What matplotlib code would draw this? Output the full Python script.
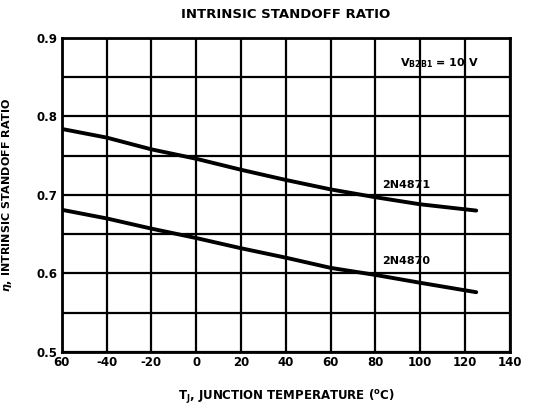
import matplotlib
matplotlib.use("Agg")
import matplotlib.pyplot as plt

# 데이터
temp = [-60, -40, -20, 0, 20, 40, 60, 80, 100, 125]
eta_2n4871 = [0.784, 0.773, 0.758, 0.746, 0.732, 0.719, 0.707, 0.697, 0.688, 0.680]
eta_2n4870 = [0.681, 0.670, 0.657, 0.645, 0.632, 0.620, 0.607, 0.598, 0.588, 0.576]

x_ticks = [-60, -40, -20, 0, 20, 40, 60, 80, 100, 120, 140]
x_tick_labels = ["60", "-40", "-20", "0", "20", "40", "60", "80", "100", "120", "140"]
y_ticks = [0.5, 0.6, 0.7, 0.8, 0.9]
y_tick_labels = ["0.5", "0.6", "0.7", "0.8", "0.9"]
y_grid = [0.55, 0.65, 0.75, 0.85]

plt.rcParams["font.family"] = ["DejaVu Sans"]
plt.rcParams["font.weight"] = "bold"

fig = plt.figure(figsize=(5.47, 4.12), dpi=100)
ax = fig.add_axes([0.113, 0.146, 0.819, 0.762])

ax.set_xlim(-60, 140)
ax.set_ylim(0.5, 0.9)

# 격자
for xv in x_ticks:
    ax.axvline(xv, color="black", lw=1.6, zorder=1)
for yv in y_ticks + y_grid:
    ax.axhline(yv, color="black", lw=1.6, zorder=1)

# 곡선
ax.plot(temp, eta_2n4871, color="black", lw=2.8, solid_capstyle="round", zorder=3)
ax.plot(temp, eta_2n4870, color="black", lw=2.8, solid_capstyle="round", zorder=3)

ax.text(83, 0.713, "2N4871", fontsize=8, fontweight="bold", va="center")
ax.text(83, 0.616, "2N4870", fontsize=8, fontweight="bold", va="center")
ax.text(91, 0.868, r"V$_{\mathregular{B2B1}}$ = 10 V", fontsize=8,
        fontweight="bold", va="center")

ax.set_xticks(x_ticks)
ax.set_xticklabels(x_tick_labels, fontsize=8.5, fontweight="bold")
ax.set_yticks(y_ticks)
ax.set_yticklabels(y_tick_labels, fontsize=8.5, fontweight="bold")
ax.tick_params(length=0, pad=3)
for s in ax.spines.values():
    s.set_linewidth(2)

ax.set_xlabel(r"T$_{\mathregular{J}}$, JUNCTION TEMPERATURE ($^{\mathregular{o}}$C)",
              fontsize=8.5, fontweight="bold", labelpad=14)
ax.set_ylabel(r"$\eta$, INTRINSIC STANDOFF RATIO", fontsize=8,
              fontweight="bold", labelpad=16)
fig.text(0.522, 0.965, "INTRINSIC STANDOFF RATIO", ha="center", va="center",
         fontsize=9.5, fontweight="bold")

fig.savefig("out.png", dpi=100)
